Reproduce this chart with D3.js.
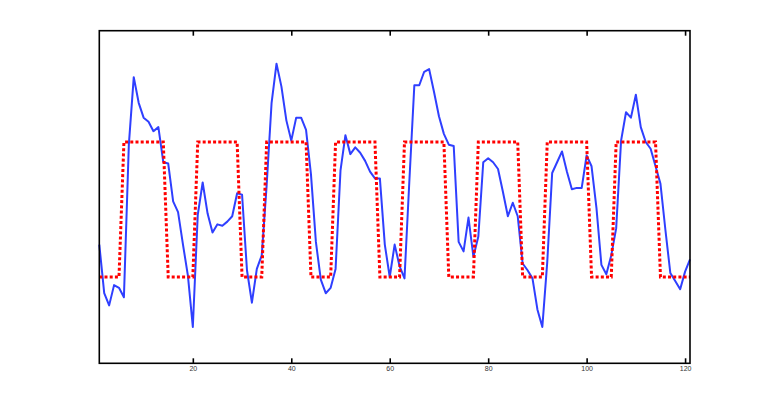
<!DOCTYPE html>
<html>
<head>
<meta charset="utf-8">
<script src="https://cdn.jsdelivr.net/npm/d3@7"></script>
<style>
html,body{margin:0;padding:0;background:#fff;}
svg{display:block;}
</style>
</head>
<body>
<div id="chart"></div>
<script>
// Sample index 1..121
const xValues = d3.range(1, 122);

// Blue measured signal
const signal = [
 0.24,-0.12,-0.21,-0.06,-0.08,-0.15,0.98,1.48,1.29,1.18,
 1.15,1.08,1.11,0.85,0.84,0.56,0.48,0.24,0.01,-0.37,
 0.46,0.70,0.47,0.33,0.39,0.38,0.41,0.45,0.62,0.61,
 0.05,-0.19,0.06,0.16,0.68,1.29,1.58,1.41,1.16,1.01,
 1.18,1.18,1.09,0.76,0.26,-0.02,-0.12,-0.08,0.06,0.79,
 1.05,0.91,0.96,0.92,0.86,0.78,0.73,0.73,0.24,0.00,
 0.24,0.08,-0.01,0.72,1.42,1.42,1.52,1.54,1.37,1.19,
 1.06,0.98,0.97,0.26,0.19,0.44,0.15,0.30,0.85,0.88,
 0.85,0.80,0.63,0.45,0.55,0.45,0.10,0.05,-0.01,-0.24,
 -0.37,0.11,0.77,0.85,0.93,0.78,0.65,0.66,0.66,0.90,
 0.82,0.51,0.09,0.02,0.16,0.36,1.01,1.22,1.18,1.35,
 1.11,1.00,0.95,0.82,0.69,0.35,0.03,-0.03,-0.09,0.04,
 0.13
];

// Red square reference wave
const reference = [
 0,0,0,0,0,1,1,1,1,1,
 1,1,1,1,0,0,0,0,0,0,
 1,1,1,1,1,1,1,1,1,0,
 0,0,0,0,1,1,1,1,1,1,
 1,1,1,0,0,0,0,0,1,1,
 1,1,1,1,1,1,1,0,0,0,
 0,0,1,1,1,1,1,1,1,1,
 1,0,0,0,0,0,0,1,1,1,
 1,1,1,1,1,1,0,0,0,0,
 0,1,1,1,1,1,1,1,1,1,
 0,0,0,0,0,1,1,1,1,1,
 1,1,1,1,0,0,0,0,0,0,
 0
];

const xTicks = [20, 40, 60, 80, 100, 120];
const xDomain = [1, 121];
const yDomain = [-0.639, 1.824];

const W = 763, H = 409;
const margin = {left: 99.3, right: 763 - 690, top: 30.7, bottom: 409 - 363.3};

const svg = d3.select("#chart").append("svg")
  .attr("width", W).attr("height", H);

const x = d3.scaleLinear().domain(xDomain).range([margin.left, W - margin.right]);
const y = d3.scaleLinear().domain(yDomain).range([H - margin.bottom, margin.top]);

const line = d3.line().x((d, i) => x(xValues[i])).y(d => y(d));

svg.append("path")
  .datum(signal)
  .attr("d", line)
  .attr("fill", "none")
  .attr("stroke", "#2f3fff")
  .attr("stroke-width", 2)
  .attr("stroke-linejoin", "round");

svg.append("path")
  .datum(reference)
  .attr("d", line)
  .attr("fill", "none")
  .attr("stroke", "#ff0000")
  .attr("stroke-width", 3)
  .attr("stroke-dasharray", "3,2.2");

// Frame
const x0 = x(xDomain[0]), x1 = x(xDomain[1]), y0 = y(yDomain[0]), y1 = y(yDomain[1]);
svg.append("rect")
  .attr("x", x0).attr("y", y1)
  .attr("width", x1 - x0).attr("height", y0 - y1)
  .attr("fill", "none").attr("stroke", "#000").attr("stroke-width", 1.6);

// Bottom axis (ticks inward)
const bottomAxis = d3.axisBottom(x).tickValues(xTicks).tickSize(-5).tickPadding(3);
const gB = svg.append("g").attr("transform", `translate(0,${y0})`).call(bottomAxis);
gB.select(".domain").remove();
gB.selectAll(".tick line").attr("stroke", "#000").attr("stroke-width", 1.6);
gB.selectAll(".tick text").attr("font-family", "Liberation Sans, Arial, sans-serif")
  .attr("font-size", 7).attr("fill", "#333");

// Top axis ticks (inward, no labels)
const topAxis = d3.axisTop(x).tickValues(xTicks).tickSize(-5).tickFormat("");
const gT = svg.append("g").attr("transform", `translate(0,${y1})`).call(topAxis);
gT.select(".domain").remove();
gT.selectAll(".tick line").attr("stroke", "#000").attr("stroke-width", 1.6);
</script>
</body>
</html>
